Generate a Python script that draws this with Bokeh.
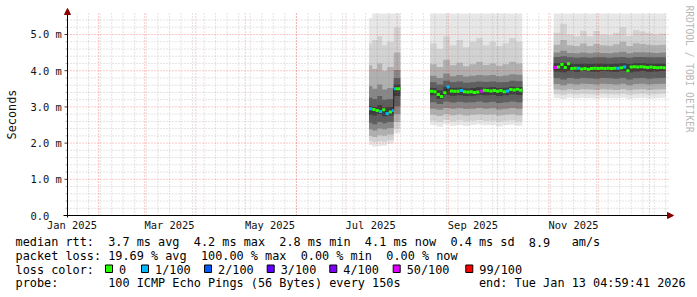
import numpy as np
import pandas as pd
from bokeh.plotting import figure
from bokeh.models import Range1d, Arrow, NormalHead
from bokeh.core.properties import value
from bokeh.embed import file_html
from bokeh.resources import INLINE


def ms(t):
    return pd.Timestamp(t).value / 1e6


# ---------------- data ----------------
x_start = "2025-01-13 05:00:00"
x_end = "2026-01-13 05:00:00"
y_max = 5.58

y_ticks = [0.0, 1.0, 2.0, 3.0, 4.0, 5.0]
y_tick_labels = ["0.0", "1.0 m", "2.0 m", "3.0 m", "4.0 m", "5.0 m"]
x_label_dates = ["2025-01-16", "2025-03-16", "2025-05-16", "2025-07-16", "2025-09-16", "2025-11-16"]
x_tick_labels = ["Jan 2025", "Mar 2025", "May 2025", "Jul 2025", "Sep 2025", "Nov 2025"]

segment_end = ["2025-08-03", "2025-10-16", "2026-01-11"]

# median rtt (ms) per RRD step, and its loss class
med_dates = (["2025-07-15", "2025-07-17", "2025-07-19", "2025-07-21", "2025-07-23",
              "2025-07-25", "2025-07-27", "2025-07-29", "2025-07-30", "2025-07-31"]
             + list(pd.date_range("2025-08-21", periods=28, freq="2D").strftime("%Y-%m-%d"))
             + list(pd.date_range("2025-11-04", periods=34, freq="2D").strftime("%Y-%m-%d")))
med_rtt = [2.95, 2.93, 2.90, 2.87, 2.92, 2.82, 2.86, 2.90, 3.50, 3.50,
           3.43, 3.42, 3.34, 3.29, 3.39, 3.55, 3.44, 3.43, 3.43, 3.45, 3.42, 3.41, 3.42, 3.40,
           3.41, 3.43, 3.46, 3.45, 3.44, 3.45, 3.43, 3.45, 3.42, 3.44, 3.48, 3.47, 3.49, 3.46,
           4.09, 4.10, 4.17, 4.09, 4.19, 4.06, 4.07, 4.07, 4.05, 4.06, 4.04, 4.06, 4.07, 4.06,
           4.07, 4.06, 4.07, 4.06, 4.07, 4.07, 4.08, 4.10, 4.00, 4.10, 4.11, 4.10, 4.11, 4.10,
           4.09, 4.10, 4.09, 4.08, 4.09, 4.08]
med_loss = ["1/100", "0", "0", "1/100", "0", "1/100", "0", "1/100", "1/100", "0",
            "0", "0", "0", "0", "0", "1/100", "0", "0", "0", "1/100", "0", "0", "0", "0",
            "0", "50/100", "0", "0", "0", "0", "0", "0", "0", "1/100", "0", "0", "0", "0",
            "50/100", "0", "0", "0", "0", "0", "0", "1/100", "0", "0", "0", "0", "0", "0",
            "0", "0", "0", "0", "0", "1/100", "0", "1/100", "0", "0", "0", "0", "0", "0",
            "0", "0", "0", "0", "0", "0"]

# smoke: ping rtt percentiles (ms) per column
smoke_dates = (["2025-07-15", "2025-07-17", "2025-07-20", "2025-07-23", "2025-07-26", "2025-07-30"]
               + list(pd.date_range("2025-08-21", periods=14, freq="4D").strftime("%Y-%m-%d"))
               + list(pd.date_range("2025-11-04", periods=17, freq="4D").strftime("%Y-%m-%d")))
p01 = [1.95, 1.90, 1.92, 1.93, 1.98, 2.27,
       2.50, 2.45, 2.52, 2.48, 2.50, 2.47, 2.50, 2.52, 2.49, 2.50, 2.46, 2.50, 2.51, 2.48,
       3.24, 3.22, 3.25, 3.23, 3.25, 3.24, 3.23, 3.25, 3.24, 3.23, 3.25, 3.22, 3.24, 3.25, 3.23, 3.24, 3.25]
p05 = [2.06, 2.02, 2.05, 2.04, 2.08, 2.40,
       2.62, 2.58, 2.64, 2.60, 2.63, 2.60, 2.62, 2.64, 2.61, 2.62, 2.59, 2.62, 2.63, 2.60,
       3.35, 3.33, 3.36, 3.34, 3.36, 3.35, 3.34, 3.36, 3.35, 3.34, 3.36, 3.33, 3.35, 3.36, 3.34, 3.35, 3.36]
p12 = [2.20, 2.17, 2.22, 2.20, 2.24, 2.58,
       2.78, 2.75, 2.80, 2.77, 2.79, 2.76, 2.78, 2.80, 2.78, 2.79, 2.76, 2.78, 2.80, 2.77,
       3.48, 3.46, 3.49, 3.47, 3.49, 3.48, 3.47, 3.49, 3.48, 3.47, 3.49, 3.46, 3.48, 3.49, 3.47, 3.48, 3.49]
p22 = [2.38, 2.35, 2.40, 2.38, 2.42, 2.80,
       2.95, 2.92, 2.97, 2.95, 2.96, 2.94, 2.95, 2.97, 2.95, 2.96, 2.93, 2.95, 2.97, 2.95,
       3.63, 3.60, 3.64, 3.62, 3.64, 3.63, 3.62, 3.64, 3.63, 3.62, 3.64, 3.60, 3.63, 3.64, 3.62, 3.63, 3.64]
p33 = [2.56, 2.52, 2.58, 2.55, 2.58, 3.02,
       3.13, 3.08, 3.15, 3.12, 3.14, 3.12, 3.13, 3.15, 3.12, 3.14, 3.11, 3.13, 3.15, 3.13,
       3.79, 3.76, 3.80, 3.78, 3.80, 3.79, 3.78, 3.80, 3.79, 3.78, 3.80, 3.76, 3.79, 3.80, 3.78, 3.79, 3.80]
p44 = [2.78, 2.76, 2.80, 2.74, 2.76, 3.30,
       3.32, 3.22, 3.33, 3.31, 3.32, 3.30, 3.31, 3.33, 3.32, 3.33, 3.30, 3.32, 3.35, 3.33,
       3.98, 3.96, 4.00, 3.97, 3.99, 3.98, 3.97, 3.99, 3.98, 3.97, 3.99, 3.95, 3.98, 3.99, 3.97, 3.98, 3.99]
p56 = [3.02, 3.00, 3.05, 2.98, 3.00, 3.62,
       3.52, 3.45, 3.55, 3.52, 3.53, 3.51, 3.52, 3.54, 3.53, 3.54, 3.52, 3.53, 3.56, 3.55,
       4.21, 4.22, 4.20, 4.19, 4.20, 4.19, 4.20, 4.20, 4.19, 4.20, 4.21, 4.19, 4.21, 4.21, 4.20, 4.20, 4.20]
p67 = [3.25, 3.22, 3.30, 3.20, 3.22, 3.80,
       3.68, 3.62, 3.72, 3.68, 3.70, 3.67, 3.68, 3.70, 3.69, 3.70, 3.68, 3.69, 3.72, 3.71,
       4.38, 4.40, 4.37, 4.36, 4.37, 4.36, 4.37, 4.37, 4.36, 4.37, 4.38, 4.36, 4.38, 4.38, 4.37, 4.37, 4.37]
p78 = [3.58, 3.50, 3.62, 3.48, 3.52, 4.02,
       3.86, 3.80, 3.92, 3.85, 3.88, 3.84, 3.86, 3.88, 3.87, 3.88, 3.85, 3.87, 3.90, 3.89,
       4.50, 4.55, 4.49, 4.48, 4.50, 4.48, 4.50, 4.49, 4.48, 4.50, 4.52, 4.48, 4.51, 4.51, 4.50, 4.49, 4.50]
p88 = [4.15, 4.05, 4.20, 4.00, 4.10, 4.50,
       4.18, 4.10, 4.30, 4.15, 4.22, 4.12, 4.18, 4.25, 4.16, 4.20, 4.14, 4.18, 4.25, 4.20,
       4.72, 4.85, 4.70, 4.68, 4.75, 4.68, 4.74, 4.70, 4.69, 4.73, 4.80, 4.68, 4.76, 4.74, 4.72, 4.70, 4.72]
p95 = [4.75, 4.85, 4.95, 4.70, 4.80, 5.20,
       4.75, 4.60, 4.95, 4.70, 4.85, 4.65, 4.80, 4.90, 4.70, 4.80, 4.68, 4.75, 4.90, 4.80,
       5.05, 5.30, 5.00, 4.95, 5.10, 4.95, 5.10, 5.00, 4.98, 5.05, 5.20, 4.96, 5.12, 5.08, 5.04, 5.00, 5.03]
p99 = [5.45, 6.50, 6.80, 6.40, 6.60, 7.00,
       6.50, 6.40, 6.90, 6.50, 6.70, 6.40, 6.60, 6.80, 6.50, 6.60, 6.40, 6.50, 6.80, 6.60,
       6.50, 6.90, 6.40, 6.30, 6.60, 6.30, 6.60, 6.40, 6.40, 6.50, 6.80, 6.30, 6.60, 6.50, 6.50, 6.40, 6.50]

loss_levels = ["0", "1/100", "2/100", "3/100", "4/100", "50/100", "99/100"]
loss_colors = ["#26ff00", "#00b8ff", "#0059ff", "#5e00ff", "#7e00ff", "#dd00ff", "#ff0000"]

legend_line1 = [(0, "median rtt:"), (13, "3.7 ms avg"), (25, "4.2 ms max"), (37, "2.8 ms min"),
                (49, "4.1 ms now"), (61, "0.4 ms sd"), (72, "8.9"), (78, "am/s")]
legend_line2 = [(0, "packet loss:"), (13, "19.69 % avg"), (26, "100.00 % max"),
                (40, "0.00 % min"), (52, "0.00 % now")]
legend_line3 = [(0, "loss color:")]
legend_line4 = [(0, "probe:"), (13, "100 ICMP Echo Pings (56 Bytes) every 150s"),
                (65, "end: Tue Jan 13 04:59:41 2026")]

# ---------------- layout / styling constants ----------------
MONO = "DejaVu Sans Mono"
band_colors = ["#e7e7e7", "#d2d2d2", "#b0b0b0", "#878787", "#5e5e5e", "#3d3d3d"]
MGRID, MGRID_A = "#ff0000", 0.42
GRID, GRID_A = "#808080", 0.42
ARROW = "#8b0000"
W, H = 697, 297
PLOT_L, PLOT_R, PLOT_T, PLOT_B = 67, 669, 13, 215
LEGEND_ROWS_Y = [241.7, 255.4, 269.1, 282.8]

x0, x1 = ms(x_start), ms(x_end)
ms_per_px = (x1 - x0) / (PLOT_R - PLOT_L)
y_per_px = y_max / (PLOT_B - PLOT_T)
X_LEFT = x0 - PLOT_L * ms_per_px
X_RIGHT = x1 + (W - PLOT_R) * ms_per_px
Y_TOP = y_max + PLOT_T * y_per_px
Y_BOTTOM = -(H - PLOT_B) * y_per_px


def px2x(px):
    return X_LEFT + px * ms_per_px


def py2y(py):
    return Y_TOP - py * y_per_px


# the frame covers the whole canvas; the data area is x0..x1, 0..y_max
p = figure(width=W, height=H, output_backend="svg", toolbar_location=None, title=None,
           x_axis_location=None, y_axis_location=None,
           x_range=Range1d(X_LEFT, X_RIGHT), y_range=Range1d(Y_BOTTOM, Y_TOP),
           min_border=0, min_border_left=0, min_border_right=0,
           min_border_top=0, min_border_bottom=0)
p.outline_line_color = None
p.background_fill_color = "white"
p.border_fill_color = "white"
for g in p.grid:
    g.visible = False

ends_ms = [ms(e) for e in segment_end]


def seg_of(t):
    return next(i for i, e in enumerate(ends_ms) if t < e)


def right_edges(starts):
    out = []
    for i, t in enumerate(starts):
        s = seg_of(t)
        r = ends_ms[s]
        if i + 1 < len(starts) and seg_of(starts[i + 1]) == s:
            r = starts[i + 1]
        out.append(r)
    return out


# ---- smoke (clipped to the top of the graph area like rrdtool) ----
sm_x = [ms(d) for d in smoke_dates]
lows = [p01, p05, p12, p22, p33, p44]
highs = [p99, p95, p88, p78, p67, p56]
for s in range(len(ends_ms)):
    idx = [i for i, t in enumerate(sm_x) if seg_of(t) == s]
    xs = [sm_x[i] for i in idx] + [ends_ms[s]]
    for lo, hi, col in zip(lows, highs, band_colors):
        y1 = [min(lo[i], y_max) for i in idx]
        y2 = [min(hi[i], y_max) for i in idx]
        p.varea_step(x=xs, y1=y1 + [y1[-1]], y2=y2 + [y2[-1]], step_mode="after",
                     fill_color=col)

# ---- grid (drawn over the smoke, like rrdtool) ----
month_starts = [ms(d) for d in pd.date_range("2025-02-01", "2026-01-01", freq="MS")]
week_starts = [ms(d) for d in pd.date_range("2025-01-19", "2026-01-11", freq="7D")]
y_minor = [round(v, 1) for v in np.arange(0.2, y_max, 0.2) if abs(v - round(v)) > 1e-6]

p.segment(x0=week_starts, x1=week_starts, y0=0, y1=y_max, line_color=GRID,
          line_alpha=GRID_A, line_dash="1 2", line_width=1)
p.segment(x0=x0, x1=x1, y0=y_minor, y1=y_minor, line_color=GRID,
          line_alpha=GRID_A, line_dash="1 2", line_width=1)
p.segment(x0=month_starts, x1=month_starts, y0=0, y1=y_max, line_color=MGRID,
          line_alpha=MGRID_A, line_dash="1 2", line_width=1)
p.segment(x0=x0, x1=x1, y0=y_ticks[1:], y1=y_ticks[1:], line_color=MGRID,
          line_alpha=MGRID_A, line_dash="1 2", line_width=1)

# ---- median ----
md_x = [ms(d) for d in med_dates]
md_r = right_edges(md_x)
for s in range(len(ends_ms)):
    idx = [i for i, t in enumerate(md_x) if seg_of(t) == s]
    xs = [md_x[i] for i in idx] + [ends_ms[s]]
    ys = [med_rtt[i] for i in idx] + [med_rtt[idx[-1]]]
    p.step(x=xs, y=ys, mode="after", line_color="#202020", line_width=1)
cmap = dict(zip(loss_levels, loss_colors))
p.segment(x0=md_x, x1=md_r, y0=med_rtt, y1=med_rtt,
          line_color=[cmap[l] for l in med_loss], line_width=3)

# ---- axes ----
p.segment(x0=x0 - 3 * ms_per_px, x1=x0, y0=y_ticks, y1=y_ticks, line_color="#404040", line_width=1)
p.segment(x0=x0 - 2 * ms_per_px, x1=x0, y0=y_minor, y1=y_minor, line_color="#b0b0b0", line_width=1)
p.text(x=[x0] * len(y_ticks), y=y_ticks, text=y_tick_labels, x_offset=-37, y_offset=0,
       text_align="left", text_baseline="alphabetic", text_font=value(MONO),
       text_font_size="10.4px", text_color="#111111")
p.text(x=[ms(d) for d in x_label_dates], y=[0] * len(x_label_dates), text=x_tick_labels,
       y_offset=9.5, text_align="center", text_baseline="alphabetic", text_font=value(MONO),
       text_font_size="10.4px", text_color="#111111")
p.add_layout(Arrow(x_start=x0, y_start=-2 * y_per_px, x_end=x0, y_end=y_max + 5 * y_per_px,
                   line_color="black", line_width=1,
                   end=NormalHead(size=6, fill_color=ARROW, line_color=ARROW)))
p.add_layout(Arrow(x_start=x0 - 4 * ms_per_px, y_start=0, x_end=x1 + 4 * ms_per_px, y_end=0,
                   line_color="black", line_width=1,
                   end=NormalHead(size=6, fill_color=ARROW, line_color=ARROW)))

# ---- titles ----
p.text(x=[px2x(11)], y=[py2y(114)], text=["Seconds"], angle=np.pi / 2,
       text_align="center", text_baseline="alphabetic", text_font=value(MONO),
       text_font_size="11.85px", text_color="#111111")
p.text(x=[px2x(689)], y=[py2y(68.5)], text=["RRDTOOL / TOBI OETIKER"], angle=-np.pi / 2,
       text_align="center", text_baseline="alphabetic", text_font=value(MONO),
       text_font_size="9.6px", text_color="#b8b8b8")

# ---- legend ----
X0, CW = 15, 7.13
lx, ly, lt = [], [], []
for row, base in zip([legend_line1, legend_line2, legend_line3, legend_line4], LEGEND_ROWS_Y):
    for col, txt in row:
        lx.append(px2x(X0 + col * CW))
        ly.append(py2y(base))
        lt.append(txt)
sq_x = [105, 141, 204, 266.7, 329.3, 392.7, 465.3]
for sx, lab in zip(sq_x, loss_levels):
    lx.append(px2x(sx + 13.5))
    ly.append(py2y(LEGEND_ROWS_Y[2]))
    lt.append(lab)
p.text(x=lx, y=ly, text=lt, text_align="left", text_baseline="alphabetic",
       text_font=value(MONO), text_font_size="11.85px", text_color="black")
p.quad(left=[px2x(sx) for sx in sq_x], right=[px2x(sx + 7) for sx in sq_x],
       top=py2y(264.5), bottom=py2y(272), fill_color=loss_colors,
       line_color="black", line_width=1)

open("out.html", "w").write(file_html(p, INLINE))
